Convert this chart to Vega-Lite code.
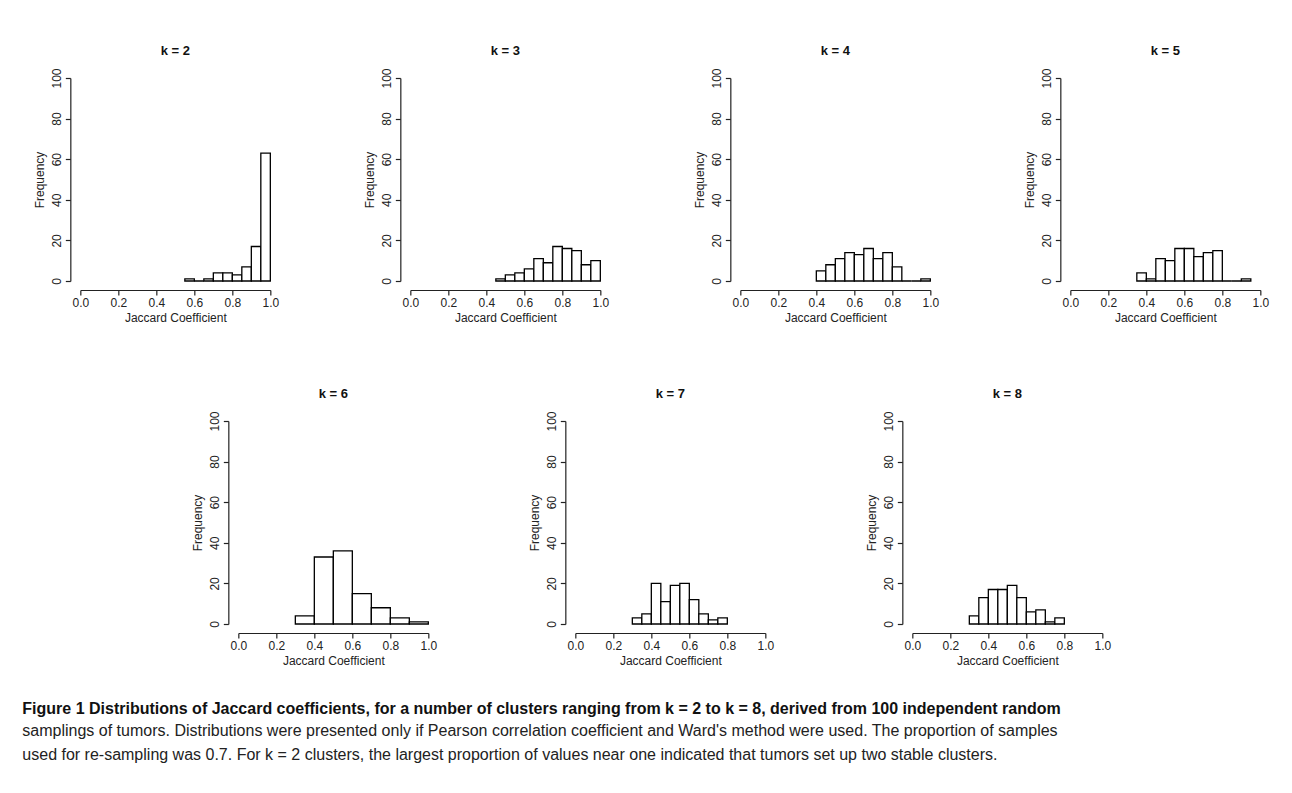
{
  "$schema": "https://vega.github.io/schema/vega-lite/v6.json",
  "background": "white",
  "padding": {"left": 22, "top": 44, "right": 5, "bottom": 5},
  "datasets": {
    "hist": [
      {"k": 2, "bin_start": 0.55, "bin_end": 0.60, "count": 1},
      {"k": 2, "bin_start": 0.60, "bin_end": 0.65, "count": 0},
      {"k": 2, "bin_start": 0.65, "bin_end": 0.70, "count": 1},
      {"k": 2, "bin_start": 0.70, "bin_end": 0.75, "count": 4},
      {"k": 2, "bin_start": 0.75, "bin_end": 0.80, "count": 4},
      {"k": 2, "bin_start": 0.80, "bin_end": 0.85, "count": 3},
      {"k": 2, "bin_start": 0.85, "bin_end": 0.90, "count": 7},
      {"k": 2, "bin_start": 0.90, "bin_end": 0.95, "count": 17},
      {"k": 2, "bin_start": 0.95, "bin_end": 1.00, "count": 63},
      {"k": 3, "bin_start": 0.45, "bin_end": 0.50, "count": 1},
      {"k": 3, "bin_start": 0.50, "bin_end": 0.55, "count": 3},
      {"k": 3, "bin_start": 0.55, "bin_end": 0.60, "count": 4},
      {"k": 3, "bin_start": 0.60, "bin_end": 0.65, "count": 6},
      {"k": 3, "bin_start": 0.65, "bin_end": 0.70, "count": 11},
      {"k": 3, "bin_start": 0.70, "bin_end": 0.75, "count": 9},
      {"k": 3, "bin_start": 0.75, "bin_end": 0.80, "count": 17},
      {"k": 3, "bin_start": 0.80, "bin_end": 0.85, "count": 16},
      {"k": 3, "bin_start": 0.85, "bin_end": 0.90, "count": 15},
      {"k": 3, "bin_start": 0.90, "bin_end": 0.95, "count": 8},
      {"k": 3, "bin_start": 0.95, "bin_end": 1.00, "count": 10},
      {"k": 4, "bin_start": 0.40, "bin_end": 0.45, "count": 5},
      {"k": 4, "bin_start": 0.45, "bin_end": 0.50, "count": 8},
      {"k": 4, "bin_start": 0.50, "bin_end": 0.55, "count": 11},
      {"k": 4, "bin_start": 0.55, "bin_end": 0.60, "count": 14},
      {"k": 4, "bin_start": 0.60, "bin_end": 0.65, "count": 13},
      {"k": 4, "bin_start": 0.65, "bin_end": 0.70, "count": 16},
      {"k": 4, "bin_start": 0.70, "bin_end": 0.75, "count": 11},
      {"k": 4, "bin_start": 0.75, "bin_end": 0.80, "count": 14},
      {"k": 4, "bin_start": 0.80, "bin_end": 0.85, "count": 7},
      {"k": 4, "bin_start": 0.85, "bin_end": 0.90, "count": 0},
      {"k": 4, "bin_start": 0.90, "bin_end": 0.95, "count": 0},
      {"k": 4, "bin_start": 0.95, "bin_end": 1.00, "count": 1},
      {"k": 5, "bin_start": 0.35, "bin_end": 0.40, "count": 4},
      {"k": 5, "bin_start": 0.40, "bin_end": 0.45, "count": 1},
      {"k": 5, "bin_start": 0.45, "bin_end": 0.50, "count": 11},
      {"k": 5, "bin_start": 0.50, "bin_end": 0.55, "count": 10},
      {"k": 5, "bin_start": 0.55, "bin_end": 0.60, "count": 16},
      {"k": 5, "bin_start": 0.60, "bin_end": 0.65, "count": 16},
      {"k": 5, "bin_start": 0.65, "bin_end": 0.70, "count": 12},
      {"k": 5, "bin_start": 0.70, "bin_end": 0.75, "count": 14},
      {"k": 5, "bin_start": 0.75, "bin_end": 0.80, "count": 15},
      {"k": 5, "bin_start": 0.80, "bin_end": 0.85, "count": 0},
      {"k": 5, "bin_start": 0.85, "bin_end": 0.90, "count": 0},
      {"k": 5, "bin_start": 0.90, "bin_end": 0.95, "count": 1},
      {"k": 6, "bin_start": 0.3, "bin_end": 0.4, "count": 4},
      {"k": 6, "bin_start": 0.4, "bin_end": 0.5, "count": 33},
      {"k": 6, "bin_start": 0.5, "bin_end": 0.6, "count": 36},
      {"k": 6, "bin_start": 0.6, "bin_end": 0.7, "count": 15},
      {"k": 6, "bin_start": 0.7, "bin_end": 0.8, "count": 8},
      {"k": 6, "bin_start": 0.8, "bin_end": 0.9, "count": 3},
      {"k": 6, "bin_start": 0.9, "bin_end": 1.0, "count": 1},
      {"k": 7, "bin_start": 0.30, "bin_end": 0.35, "count": 3},
      {"k": 7, "bin_start": 0.35, "bin_end": 0.40, "count": 5},
      {"k": 7, "bin_start": 0.40, "bin_end": 0.45, "count": 20},
      {"k": 7, "bin_start": 0.45, "bin_end": 0.50, "count": 11},
      {"k": 7, "bin_start": 0.50, "bin_end": 0.55, "count": 19},
      {"k": 7, "bin_start": 0.55, "bin_end": 0.60, "count": 20},
      {"k": 7, "bin_start": 0.60, "bin_end": 0.65, "count": 12},
      {"k": 7, "bin_start": 0.65, "bin_end": 0.70, "count": 5},
      {"k": 7, "bin_start": 0.70, "bin_end": 0.75, "count": 2},
      {"k": 7, "bin_start": 0.75, "bin_end": 0.80, "count": 3},
      {"k": 8, "bin_start": 0.30, "bin_end": 0.35, "count": 4},
      {"k": 8, "bin_start": 0.35, "bin_end": 0.40, "count": 13},
      {"k": 8, "bin_start": 0.40, "bin_end": 0.45, "count": 17},
      {"k": 8, "bin_start": 0.45, "bin_end": 0.50, "count": 17},
      {"k": 8, "bin_start": 0.50, "bin_end": 0.55, "count": 19},
      {"k": 8, "bin_start": 0.55, "bin_end": 0.60, "count": 13},
      {"k": 8, "bin_start": 0.60, "bin_end": 0.65, "count": 6},
      {"k": 8, "bin_start": 0.65, "bin_end": 0.70, "count": 7},
      {"k": 8, "bin_start": 0.70, "bin_end": 0.75, "count": 1},
      {"k": 8, "bin_start": 0.75, "bin_end": 0.80, "count": 3}
    ]
  },
  "title": {
    "text": "Figure 1 Distributions of Jaccard coefficients, for a number of clusters ranging from k = 2 to k = 8, derived from 100 independent random",
    "subtitle": ["samplings of tumors. Distributions were presented only if Pearson correlation coefficient and Ward's method were used. The proportion of samples", "used for re-sampling was 0.7. For k = 2 clusters, the largest proportion of values near one indicated that tumors set up two stable clusters."],
    "orient": "bottom",
    "anchor": "start",
    "frame": "bounds",
    "dx": -11,
    "offset": 35,
    "font": "Liberation Sans",
    "fontSize": 16,
    "fontWeight": "bold",
    "color": "#111111",
    "subtitleFont": "Liberation Sans",
    "subtitleFontSize": 16,
    "subtitleFontWeight": "normal",
    "subtitleColor": "#222222",
    "subtitlePadding": 6,
    "subtitleLineHeight": 24
  },
  "vconcat": [
    {
      "hconcat": [
        {"title": "k = 2", "width": 190, "height": 203, "data": {"name": "hist"}, "transform": [{"filter": "datum.k == 2"}], "mark": {"type": "bar", "fill": "white", "stroke": "black", "strokeWidth": 1.3}, "encoding": {"x": {"field": "bin_start", "type": "quantitative", "scale": {"domain": [0, 1]}, "axis": {"title": "Jaccard Coefficient", "values": [0, 0.2, 0.4, 0.6, 0.8, 1], "format": ".1f", "offset": 9, "labelFlush": false, "labelOverlap": false}}, "x2": {"field": "bin_end"}, "y": {"field": "count", "type": "quantitative", "scale": {"domain": [0, 100]}, "axis": {"title": "Frequency", "values": [0, 20, 40, 60, 80, 100], "offset": 10, "labelAngle": -90, "labelAlign": "center", "labelBaseline": "bottom", "labelFlush": false, "labelOverlap": false}}, "y2": {"datum": 0}}},
        {"title": "k = 3", "width": 190, "height": 203, "data": {"name": "hist"}, "transform": [{"filter": "datum.k == 3"}], "mark": {"type": "bar", "fill": "white", "stroke": "black", "strokeWidth": 1.3}, "encoding": {"x": {"field": "bin_start", "type": "quantitative", "scale": {"domain": [0, 1]}, "axis": {"title": "Jaccard Coefficient", "values": [0, 0.2, 0.4, 0.6, 0.8, 1], "format": ".1f", "offset": 9, "labelFlush": false, "labelOverlap": false}}, "x2": {"field": "bin_end"}, "y": {"field": "count", "type": "quantitative", "scale": {"domain": [0, 100]}, "axis": {"title": "Frequency", "values": [0, 20, 40, 60, 80, 100], "offset": 10, "labelAngle": -90, "labelAlign": "center", "labelBaseline": "bottom", "labelFlush": false, "labelOverlap": false}}, "y2": {"datum": 0}}},
        {"title": "k = 4", "width": 190, "height": 203, "data": {"name": "hist"}, "transform": [{"filter": "datum.k == 4"}], "mark": {"type": "bar", "fill": "white", "stroke": "black", "strokeWidth": 1.3}, "encoding": {"x": {"field": "bin_start", "type": "quantitative", "scale": {"domain": [0, 1]}, "axis": {"title": "Jaccard Coefficient", "values": [0, 0.2, 0.4, 0.6, 0.8, 1], "format": ".1f", "offset": 9, "labelFlush": false, "labelOverlap": false}}, "x2": {"field": "bin_end"}, "y": {"field": "count", "type": "quantitative", "scale": {"domain": [0, 100]}, "axis": {"title": "Frequency", "values": [0, 20, 40, 60, 80, 100], "offset": 10, "labelAngle": -90, "labelAlign": "center", "labelBaseline": "bottom", "labelFlush": false, "labelOverlap": false}}, "y2": {"datum": 0}}},
        {"title": "k = 5", "width": 190, "height": 203, "data": {"name": "hist"}, "transform": [{"filter": "datum.k == 5"}], "mark": {"type": "bar", "fill": "white", "stroke": "black", "strokeWidth": 1.3}, "encoding": {"x": {"field": "bin_start", "type": "quantitative", "scale": {"domain": [0, 1]}, "axis": {"title": "Jaccard Coefficient", "values": [0, 0.2, 0.4, 0.6, 0.8, 1], "format": ".1f", "offset": 9, "labelFlush": false, "labelOverlap": false}}, "x2": {"field": "bin_end"}, "y": {"field": "count", "type": "quantitative", "scale": {"domain": [0, 100]}, "axis": {"title": "Frequency", "values": [0, 20, 40, 60, 80, 100], "offset": 10, "labelAngle": -90, "labelAlign": "center", "labelBaseline": "bottom", "labelFlush": false, "labelOverlap": false}}, "y2": {"datum": 0}}}
      ],
      "spacing": 140,
      "bounds": "flush"
    },
    {
      "hconcat": [
        {"title": "k = 6", "width": 190, "height": 203, "data": {"name": "hist"}, "transform": [{"filter": "datum.k == 6"}], "mark": {"type": "bar", "fill": "white", "stroke": "black", "strokeWidth": 1.3}, "encoding": {"x": {"field": "bin_start", "type": "quantitative", "scale": {"domain": [0, 1]}, "axis": {"title": "Jaccard Coefficient", "values": [0, 0.2, 0.4, 0.6, 0.8, 1], "format": ".1f", "offset": 9, "labelFlush": false, "labelOverlap": false}}, "x2": {"field": "bin_end"}, "y": {"field": "count", "type": "quantitative", "scale": {"domain": [0, 100]}, "axis": {"title": "Frequency", "values": [0, 20, 40, 60, 80, 100], "offset": 10, "labelAngle": -90, "labelAlign": "center", "labelBaseline": "bottom", "labelFlush": false, "labelOverlap": false}}, "y2": {"datum": 0}}},
        {"title": "k = 7", "width": 190, "height": 203, "data": {"name": "hist"}, "transform": [{"filter": "datum.k == 7"}], "mark": {"type": "bar", "fill": "white", "stroke": "black", "strokeWidth": 1.3}, "encoding": {"x": {"field": "bin_start", "type": "quantitative", "scale": {"domain": [0, 1]}, "axis": {"title": "Jaccard Coefficient", "values": [0, 0.2, 0.4, 0.6, 0.8, 1], "format": ".1f", "offset": 9, "labelFlush": false, "labelOverlap": false}}, "x2": {"field": "bin_end"}, "y": {"field": "count", "type": "quantitative", "scale": {"domain": [0, 100]}, "axis": {"title": "Frequency", "values": [0, 20, 40, 60, 80, 100], "offset": 10, "labelAngle": -90, "labelAlign": "center", "labelBaseline": "bottom", "labelFlush": false, "labelOverlap": false}}, "y2": {"datum": 0}}},
        {"title": "k = 8", "width": 190, "height": 203, "data": {"name": "hist"}, "transform": [{"filter": "datum.k == 8"}], "mark": {"type": "bar", "fill": "white", "stroke": "black", "strokeWidth": 1.3}, "encoding": {"x": {"field": "bin_start", "type": "quantitative", "scale": {"domain": [0, 1]}, "axis": {"title": "Jaccard Coefficient", "values": [0, 0.2, 0.4, 0.6, 0.8, 1], "format": ".1f", "offset": 9, "labelFlush": false, "labelOverlap": false}}, "x2": {"field": "bin_end"}, "y": {"field": "count", "type": "quantitative", "scale": {"domain": [0, 100]}, "axis": {"title": "Frequency", "values": [0, 20, 40, 60, 80, 100], "offset": 10, "labelAngle": -90, "labelAlign": "center", "labelBaseline": "bottom", "labelFlush": false, "labelOverlap": false}}, "y2": {"datum": 0}}}
      ],
      "spacing": 147,
      "bounds": "flush"
    }
  ],
  "spacing": 64,
  "center": true,
  "config": {
    "font": "Liberation Sans",
    "view": {"stroke": null},
    "axis": {
      "grid": false,
      "domainColor": "#222222",
      "domainWidth": 1.2,
      "tickColor": "#222222",
      "tickWidth": 1.2,
      "tickSize": 5,
      "labelColor": "#222222",
      "labelFont": "Liberation Sans",
      "labelFontSize": 12,
      "labelPadding": 2,
      "titleColor": "#222222",
      "titleFont": "Liberation Sans",
      "titleFontSize": 12,
      "titleFontWeight": "normal",
      "titlePadding": 4
    },
    "title": {
      "font": "Liberation Sans",
      "fontSize": 13,
      "fontWeight": "bold",
      "color": "#111111",
      "offset": 10
    }
  }
}
